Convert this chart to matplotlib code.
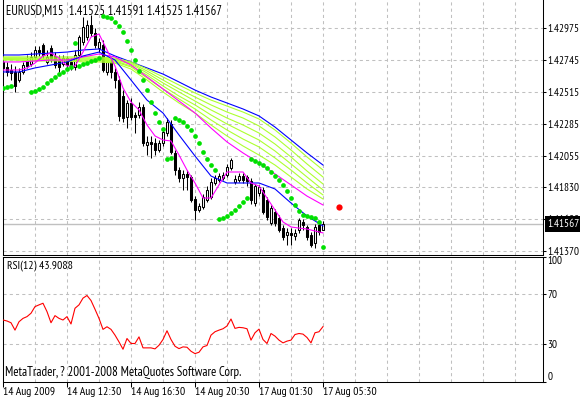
import numpy as np
import matplotlib
matplotlib.use("Agg")
import matplotlib.pyplot as plt

plt.rcParams['font.family'] = ['PT Sans Narrow', 'DejaVu Sans']
plt.rcParams['font.size'] = 8

symbol_title = "EURUSD,M15  1.41525 1.41591 1.41525 1.41567"
rsi_title = "RSI(12) 43.9088"
copyright_text = "MetaTrader, ? 2001-2008 MetaQuotes Software Corp."

# M15 candles, one per bar
opens = [1.42731, 1.42695, 1.42673, 1.42659, 1.42601, 1.42659, 1.42745, 1.42716, 1.42767, 1.42817,
         1.42853, 1.42731, 1.42831, 1.42774, 1.42745, 1.42716, 1.42759, 1.42731, 1.42695, 1.42781,
         1.42874, 1.42910, 1.42997, 1.42939, 1.42831, 1.42853, 1.42659, 1.42731, 1.42659, 1.42601,
         1.42486, 1.42335, 1.42436, 1.42350, 1.42350, 1.42407, 1.42134, 1.42156, 1.42148, 1.42098,
         1.42148, 1.42220, 1.42285, 1.42077, 1.41954, 1.41897, 1.41926, 1.41904, 1.41746, 1.41667,
         1.41688, 1.41739, 1.41760, 1.41861, 1.41882, 1.41897, 1.41918, 1.41969, 1.41868, 1.41882,
         1.41911, 1.41904, 1.41875, 1.41717, 1.41789, 1.41811, 1.41739, 1.41573, 1.41652, 1.41609,
         1.41537, 1.41487, 1.41502, 1.41480, 1.41523, 1.41581, 1.41545, 1.41487, 1.41430, 1.41559,
         1.41525]
highs = [1.42759, 1.42731, 1.42716, 1.42702, 1.42688, 1.42731, 1.42781, 1.42802, 1.42846, 1.42846,
         1.42867, 1.42817, 1.42853, 1.42802, 1.42781, 1.42781, 1.42774, 1.42759, 1.42817, 1.42925,
         1.43054, 1.43032, 1.43068, 1.42975, 1.42903, 1.42889, 1.42759, 1.42759, 1.42688, 1.42630,
         1.42529, 1.42457, 1.42472, 1.42371, 1.42443, 1.42429, 1.42199, 1.42199, 1.42184, 1.42170,
         1.42242, 1.42328, 1.42314, 1.42098, 1.41976, 1.41954, 1.41954, 1.41918, 1.41767, 1.41717,
         1.41782, 1.41839, 1.41897, 1.41918, 1.41933, 1.41940, 1.41997, 1.42041, 1.41918, 1.41933,
         1.41933, 1.41918, 1.41897, 1.41854, 1.41847, 1.41832, 1.41760, 1.41703, 1.41674, 1.41631,
         1.41559, 1.41537, 1.41537, 1.41530, 1.41609, 1.41602, 1.41559, 1.41509, 1.41566, 1.41581,
         1.41591]
lows = [1.42659, 1.42630, 1.42601, 1.42515, 1.42587, 1.42644, 1.42688, 1.42702, 1.42745, 1.42774,
        1.42759, 1.42716, 1.42731, 1.42688, 1.42659, 1.42702, 1.42673, 1.42673, 1.42673, 1.42759,
        1.42853, 1.42889, 1.42918, 1.42831, 1.42802, 1.42659, 1.42637, 1.42616, 1.42544, 1.42307,
        1.42299, 1.42256, 1.42314, 1.42220, 1.42328, 1.42127, 1.42062, 1.42041, 1.42062, 1.42084,
        1.42127, 1.42199, 1.42069, 1.41918, 1.41868, 1.41811, 1.41811, 1.41724, 1.41595, 1.41652,
        1.41674, 1.41724, 1.41746, 1.41847, 1.41868, 1.41882, 1.41904, 1.41954, 1.41854, 1.41868,
        1.41861, 1.41839, 1.41710, 1.41696, 1.41767, 1.41638, 1.41595, 1.41559, 1.41552, 1.41509,
        1.41451, 1.41415, 1.41415, 1.41451, 1.41502, 1.41523, 1.41451, 1.41401, 1.41394, 1.41487,
        1.41525]
closes = [1.42688, 1.42659, 1.42652, 1.42558, 1.42659, 1.42709, 1.42702, 1.42767, 1.42817, 1.42802,
          1.42781, 1.42767, 1.42759, 1.42709, 1.42695, 1.42759, 1.42709, 1.42695, 1.42781, 1.42910,
          1.42982, 1.42997, 1.42939, 1.42853, 1.42874, 1.42673, 1.42731, 1.42659, 1.42601, 1.42342,
          1.42328, 1.42436, 1.42335, 1.42335, 1.42407, 1.42148, 1.42156, 1.42141, 1.42098, 1.42148,
          1.42227, 1.42299, 1.42084, 1.41954, 1.41897, 1.41926, 1.41904, 1.41739, 1.41667, 1.41696,
          1.41760, 1.41811, 1.41868, 1.41897, 1.41911, 1.41918, 1.41976, 1.42026, 1.41890, 1.41911,
          1.41882, 1.41875, 1.41739, 1.41839, 1.41832, 1.41652, 1.41617, 1.41681, 1.41573, 1.41523,
          1.41473, 1.41509, 1.41487, 1.41502, 1.41595, 1.41559, 1.41473, 1.41415, 1.41545, 1.41509,
          1.41567]

# moving averages read every 4th bar (fast one every 2nd bar)
ma_slow_blue = [1.42781, 1.42781, 1.42788, 1.42795, 1.42802, 1.42817, 1.42824, 1.42774, 1.42731, 1.42688,
                1.42644, 1.42587, 1.42529, 1.42479, 1.42436, 1.42393, 1.42343, 1.42263, 1.42170, 1.42077,
                1.41990]
ma_fan = [
    [1.42767, 1.42767, 1.42767, 1.42767, 1.42767, 1.42767, 1.42767, 1.42759, 1.42731, 1.42680,
     1.42623, 1.42565, 1.42508, 1.42457, 1.42414, 1.42371, 1.42321, 1.42242, 1.42148, 1.42048, 1.41954],
    [1.42759, 1.42759, 1.42759, 1.42759, 1.42759, 1.42759, 1.42759, 1.42752, 1.42723, 1.42666,
     1.42601, 1.42537, 1.42479, 1.42422, 1.42371, 1.42328, 1.42271, 1.42192, 1.42098, 1.41998, 1.41904],
    [1.42759, 1.42759, 1.42752, 1.42752, 1.42752, 1.42752, 1.42752, 1.42745, 1.42716, 1.42652,
     1.42580, 1.42515, 1.42450, 1.42386, 1.42328, 1.42278, 1.42220, 1.42141, 1.42048, 1.41947, 1.41854],
    [1.42752, 1.42752, 1.42752, 1.42745, 1.42745, 1.42745, 1.42745, 1.42738, 1.42702, 1.42637,
     1.42558, 1.42486, 1.42422, 1.42350, 1.42285, 1.42227, 1.42170, 1.42091, 1.41998, 1.41904, 1.41811],
    [1.42752, 1.42745, 1.42745, 1.42745, 1.42738, 1.42738, 1.42738, 1.42731, 1.42695, 1.42616,
     1.42537, 1.42465, 1.42393, 1.42314, 1.42242, 1.42177, 1.42120, 1.42041, 1.41954, 1.41861, 1.41775],
    [1.42745, 1.42745, 1.42738, 1.42738, 1.42738, 1.42731, 1.42731, 1.42723, 1.42680, 1.42601,
     1.42515, 1.42436, 1.42364, 1.42278, 1.42199, 1.42127, 1.42062, 1.41990, 1.41904, 1.41818, 1.41746],
]
ma_mid_magenta = [1.42731, 1.42731, 1.42738, 1.42745, 1.42745, 1.42767, 1.42788, 1.42767, 1.42709, 1.42623,
                  1.42537, 1.42450, 1.42364, 1.42256, 1.42156, 1.42077, 1.42005, 1.41926, 1.41847, 1.41767,
                  1.41703]
ma_mid_blue = [1.42659, 1.42659, 1.42688, 1.42709, 1.42731, 1.42774, 1.42802, 1.42745, 1.42601, 1.42457,
               1.42364, 1.42206, 1.42055, 1.41911, 1.41861, 1.41861, 1.41861, 1.41818, 1.41717, 1.41624,
               1.41552]
ma_fast_magenta = [1.42673, 1.42673, 1.42673, 1.42688, 1.42723, 1.42774, 1.42795, 1.42759, 1.42702, 1.42702,
                   1.42802, 1.42910, 1.42932, 1.42817, 1.42702, 1.42544, 1.42443, 1.42386, 1.42278, 1.42199,
                   1.42170, 1.42163, 1.42062, 1.41954, 1.41861, 1.41753, 1.41753, 1.41847, 1.41940, 1.41940,
                   1.41940, 1.41861, 1.41839, 1.41753, 1.41667, 1.41581, 1.41545, 1.41537, 1.41530, 1.41516,
                   1.41502]

# parabolic SAR, one per bar (None = no dot)
sar = [1.42544, 1.42551, 1.42558, None, None, None, None, 1.42515, 1.42522, 1.42537,
       1.42551, 1.42580, 1.42601, 1.42623, 1.42644, 1.42659, 1.42680, 1.42695, 1.42867, 1.42702,
       1.42716, 1.42723, 1.42738, 1.42745, 1.42759, 1.43061, 1.43054, 1.43047, 1.43018, 1.42989,
       1.42946, 1.42882, 1.42817, 1.42745, 1.42666, 1.42601, 1.42529, 1.42443, 1.42364, 1.42299,
       1.42249, 1.42033, 1.42041, 1.42328, 1.42314, 1.42299, 1.42271, 1.42242, 1.42199, 1.42148,
       1.42084, 1.42033, 1.41990, 1.41954, 1.41602, 1.41609, 1.41624, 1.41645, 1.41667, 1.41696,
       1.41724, 1.41753, 1.42033, 1.42019, 1.42005, 1.41990, 1.41969, 1.41940, 1.41911, 1.41882,
       1.41847, 1.41803, 1.41753, 1.41703, 1.41660, 1.41631, 1.41624, 1.41617, 1.41609, 1.41581,
       1.41401]
red_dot_bar = 84
red_dot_price = 1.41688

rsi_values = [49.2, 48.4, 47.0, 41.1, 47.8, 50.5, 51.9, 54.6, 59.9, 61.3,
              62.6, 55.9, 47.0, 52.7, 50.5, 49.2, 51.9, 46.0, 58.6, 61.3,
              66.7, 68.8, 64.8, 57.8, 50.5, 41.7, 43.8, 41.7, 37.1, 31.7,
              25.8, 34.4, 30.4, 30.4, 35.7, 26.9, 26.9, 26.9, 26.1, 29.0,
              33.6, 40.6, 33.6, 28.2, 26.3, 27.7, 27.4, 24.2, 22.3, 23.4,
              27.7, 28.8, 37.1, 39.8, 41.1, 42.2, 44.4, 50.0, 42.5, 43.3,
              43.0, 42.2, 33.1, 39.0, 41.9, 33.6, 30.4, 38.4, 36.3, 33.1,
              30.9, 32.3, 33.1, 37.6, 38.4, 37.9, 35.2, 30.9, 39.0, 39.8, 43.9088]

time_labels = ["14 Aug 2009", "14 Aug 12:30", "14 Aug 16:30", "14 Aug 20:30", "17 Aug 01:30", "17 Aug 05:30"]
time_label_bars = [0, 16, 32, 48, 64, 80]
price_ticks = [1.42975, 1.42745, 1.42515, 1.42285, 1.42055, 1.41830, 1.41600, 1.41370]
rsi_ticks = [0, 30, 70, 100]
rsi_levels = [30, 70]

bars = np.arange(len(closes))
ma_bars = np.arange(0, len(closes), 4)
fast_bars = np.arange(0, len(closes), 2)
grid_bars = np.arange(8, 135, 8)

GRID = '#c0c0c0'
DASH = (0, (3, 3))
W, H = 580, 398
fig = plt.figure(figsize=(W / 100, H / 100), dpi=100)
fig.patch.set_facecolor('white')
ax = fig.add_axes([2.5 / W, 1 - 254.5 / H, 540 / W, 254.5 / H])
rsi_ax = fig.add_axes([2.5 / W, 1 - 381.5 / H, 540 / W, 125 / H])

# ---- price panel ----
ax.set_xlim(-0.125, 134.875)
ax.set_ylim(1.41347, 1.431762)
for b in grid_bars:
    ax.axvline(b, color=GRID, lw=0.75, ls=DASH, zorder=0)
ax.set_yticks(price_ticks)
ax.set_yticklabels([f"{v:.5f}" for v in price_ticks])
ax.yaxis.tick_right()
ax.grid(axis='y', color=GRID, lw=0.75, ls=DASH, zorder=0)
ax.set_axisbelow(True)
ax.set_xticks([])
ax.tick_params(axis='y', length=2.2, width=0.75, pad=1.2, labelsize=8)
ax.spines['top'].set_visible(False)
for s in ['left', 'right', 'bottom']:
    ax.spines[s].set_linewidth(0.75)

ax.axhline(closes[-1], color=GRID, lw=1.0, zorder=1)

o = np.array(opens)
c = np.array(closes)
face = np.where(c < o, 'black', 'white')
ax.vlines(bars, lows, highs, color='black', lw=0.75, zorder=2)
ax.bar(bars, np.abs(c - o), bottom=np.minimum(o, c), width=0.55,
       color=face, edgecolor='black', linewidth=0.75, zorder=2.5)

ax.plot(ma_bars, ma_slow_blue, color='#0000ff', lw=0.8, zorder=3)
for line in ma_fan:
    ax.plot(ma_bars, line, color='#adff2f', lw=0.8, zorder=3)
ax.plot(ma_bars, ma_mid_magenta, color='#ff00ff', lw=0.8, zorder=3)
ax.plot(ma_bars, ma_mid_blue, color='#0000ff', lw=0.8, zorder=3)
ax.plot(fast_bars, ma_fast_magenta, color='#ff00ff', lw=0.8, zorder=3)

sar_arr = np.array([np.nan if v is None else v for v in sar])
ax.plot(bars, sar_arr, ls='none', marker='o', ms=3.4, color='#00e000', mec='none', zorder=4)
ax.plot(red_dot_bar, red_dot_price, ls='none', marker='o', ms=4.5, color='#ff0000', mec='none', zorder=4)

ax.text(3.5 / 540, 1 - 5 / 254.5, symbol_title, transform=ax.transAxes,
        ha='left', va='top', fontsize=9)
ax.text(1 + 5 / 540, closes[-1], f"{closes[-1]:.5f}", transform=ax.get_yaxis_transform(),
        ha='left', va='center', color='white', fontsize=8, clip_on=False, zorder=10,
        bbox=dict(boxstyle='square,pad=0.25', fc='black', ec='none'))

# ---- RSI panel ----
rsi_ax.set_xlim(-0.125, 134.875)
rsi_ax.set_ylim(0, 100)
for b in grid_bars:
    rsi_ax.axvline(b, color=GRID, lw=0.75, ls=DASH, zorder=0)
for lv in rsi_levels:
    rsi_ax.axhline(lv, color=GRID, lw=0.75, ls=DASH, zorder=0)
rsi_ax.plot(bars, rsi_values, color='#ff0000', lw=0.8, zorder=3)

rsi_ax.yaxis.tick_right()
rsi_ax.set_yticks(rsi_ticks)
rsi_ax.set_yticklabels([str(v) for v in rsi_ticks])
rsi_ax.tick_params(axis='y', length=2.2, width=0.75, pad=1.2, labelsize=8)
for lbl, v in zip(rsi_ax.get_yticklabels(), rsi_ticks):
    if v == 100:
        lbl.set_va('top')
    elif v == 0:
        lbl.set_va('bottom')

rsi_ax.set_xticks(time_label_bars)
rsi_ax.set_xticklabels(time_labels)
rsi_ax.tick_params(axis='x', length=3.5, width=0.75, pad=0.5, labelsize=8.5)
for lbl in rsi_ax.get_xticklabels():
    lbl.set_ha('left')
for s in rsi_ax.spines.values():
    s.set_linewidth(0.75)

rsi_ax.text(4.5 / 540, 1 - 4 / 125, rsi_title, transform=rsi_ax.transAxes,
            ha='left', va='top', fontsize=8.5)
rsi_ax.text(2.5 / 540, 5.5 / 125, copyright_text, transform=rsi_ax.transAxes,
            ha='left', va='baseline', fontsize=9.3)

fig.savefig('out.png', dpi=100, facecolor='white')
